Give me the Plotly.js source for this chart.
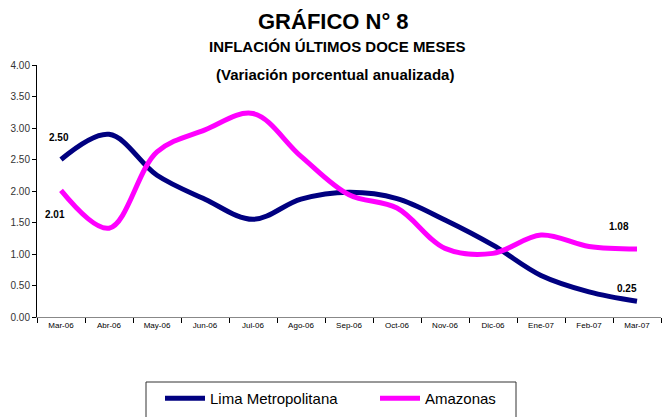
<!DOCTYPE html>
<html><head><meta charset="utf-8">
<script src="https://cdn.plot.ly/plotly-3.0.1.min.js"></script>
<style>body{margin:0;padding:0;background:#fff}#chart{width:667px;height:417px}</style>
</head><body><div id="chart"></div>
<script>
const months = ["Mar-06","Abr-06","May-06","Jun-06","Jul-06","Ago-06","Sep-06","Oct-06","Nov-06","Dic-06","Ene-07","Feb-07","Mar-07"];
const lima = [2.50, 2.90, 2.25, 1.87, 1.55, 1.87, 1.98, 1.88, 1.54, 1.14, 0.66, 0.40, 0.25];
const amazonas = [2.01, 1.41, 2.62, 2.97, 3.23, 2.55, 1.94, 1.73, 1.09, 1.01, 1.30, 1.12, 1.08];
const yTicks = [0, 0.5, 1, 1.5, 2, 2.5, 3, 3.5, 4];

const FONT = '"Liberation Sans Narrow","Arial Narrow","Liberation Sans",Arial,sans-serif';
const traces = [
  {x: months, y: lima, name: 'Lima Metropolitana', type: 'scatter', mode: 'lines',
   line: {color: '#000080', width: 5, shape: 'spline', smoothing: 1}},
  {x: months, y: amazonas, name: 'Amazonas', type: 'scatter', mode: 'lines',
   line: {color: '#FF00FF', width: 5, shape: 'spline', smoothing: 1}}
];
const lab = (xi, arr, dx, dy) => ({x: months[xi], y: arr[xi], xref: 'x', yref: 'y', text: '<b>' + arr[xi].toFixed(2) + '</b>',
  showarrow: false, xshift: dx, yshift: dy, font: {family: FONT, size: 10, color: '#000'}});
const px = v => (v - 37) / 624;
const py = v => (317 - v) / 252;
const layout = {
  width: 667, height: 417,
  margin: {l: 37, r: 6, t: 65, b: 100, autoexpand: false},
  paper_bgcolor: '#fff', plot_bgcolor: '#fff',
  font: {family: FONT, color: '#000'},
  showlegend: true,
  legend: {orientation: 'h', x: px(160), xanchor: 'left', y: py(382), yanchor: 'top',
    bgcolor: 'rgba(0,0,0,0)', borderwidth: 0, font: {family: FONT, size: 15, color: '#000'},
    entrywidth: 160, entrywidthmode: 'pixels', itemwidth: 40},
  shapes: [
    {type: 'rect', xref: 'paper', yref: 'paper', x0: px(146), x1: px(516), y0: py(382), y1: py(425),
     line: {color: '#333', width: 1}, fillcolor: 'rgba(0,0,0,0)'}
  ],
  xaxis: {type: 'category', range: [-0.5, 12.5], showline: true, linecolor: '#888', linewidth: 1,
    ticks: 'outside', tickson: 'boundaries', ticklen: 5, tickcolor: '#000', showgrid: false,
    tickfont: {family: FONT, size: 8, color: '#000'}, zeroline: false, automargin: false},
  yaxis: {range: [0, 4], tickvals: yTicks, tickformat: '.2f', showline: true, linecolor: '#000', linewidth: 1,
    ticks: 'outside', ticklen: 4, tickcolor: '#000', showgrid: false, zeroline: false, automargin: false,
    tickfont: {family: FONT, size: 10, color: '#333'}},
  annotations: [
    {text: '<b>GRÁFICO N° 8</b>', xref: 'paper', yref: 'paper', x: px(333), y: py(22), xanchor: 'center', yanchor: 'middle', showarrow: false, font: {family: FONT, size: 22, color: '#000'}},
    {text: '<b>INFLACIÓN ÚLTIMOS DOCE MESES</b>', xref: 'paper', yref: 'paper', x: px(337), y: py(46), xanchor: 'center', yanchor: 'middle', showarrow: false, font: {family: FONT, size: 15, color: '#000'}},
    {text: '<b>(Variación porcentual anualizada)</b>', xref: 'paper', yref: 'paper', x: px(335), y: py(74), xanchor: 'center', yanchor: 'middle', showarrow: false, font: {family: FONT, size: 15, color: '#000'}},
    lab(0, lima, -2, 22),
    lab(0, amazonas, -6, -24),
    lab(12, amazonas, -18, 22),
    lab(12, lima, -10, 13)
  ]
};
Plotly.newPlot('chart', traces, layout, {staticPlot: true, displayModeBar: false});
</script></body></html>
